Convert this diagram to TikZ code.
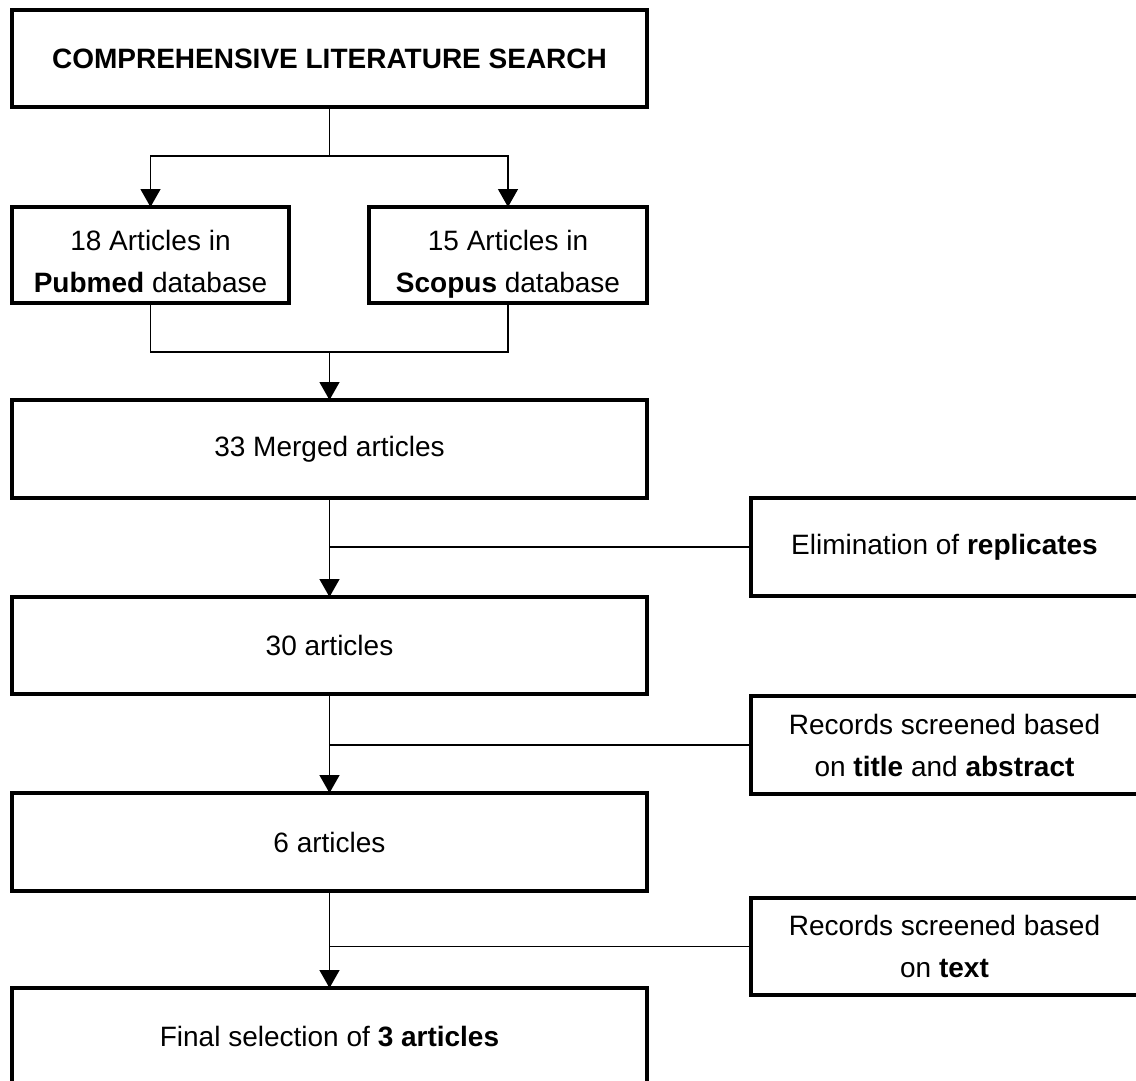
\documentclass[tikz,border=0pt]{standalone}
\usepackage{fontspec}
\setmainfont{Liberation Sans}
\usetikzlibrary{arrows.meta}
\begin{document}
\begin{tikzpicture}[x=1pt,y=-1pt,
  box/.style={draw, line width=3.5pt, rectangle, align=center, inner sep=0pt, outer sep=0pt,
    font=\fontsize{28}{42}\selectfont},
  txt/.style={align=center, inner sep=0pt, font=\fontsize{28}{42}\selectfont},
  conn/.style={line width=1.4pt},
  arr/.style={conn, -{Triangle[width=20pt,length=18pt]}}]
\useasboundingbox[fill=white] (0,0) rectangle (1136,1081);
\clip (0,0) rectangle (1136,1081);

\node[box, minimum width=635pt, minimum height=97pt] (top) at (329.5,58.5)
  {\textbf{COMPREHENSIVE LITERATURE SEARCH}};
\node[box, minimum width=277pt, minimum height=96pt] (pub) at (150.5,255) {};
\node[txt] (pubt) at ([yshift=-8pt]pub.center)
  {\strut 18 Articles in\\\strut\textbf{Pubmed} database};
\node[box, minimum width=278pt, minimum height=96pt] (sco) at (508,255) {};
\node[txt] (scot) at ([yshift=-8pt]sco.center)
  {\strut 15 Articles in\\\strut\textbf{Scopus} database};
\node[box, minimum width=635pt, minimum height=98pt] (merged) at (329.5,449)
  {33 Merged articles};
\node[box, minimum width=635pt, minimum height=97pt] (a30) at (329.5,645.5)
  {30 articles};
\node[box, minimum width=635pt, minimum height=98pt] (a6) at (329.5,842)
  {6 articles};
\node[box, minimum width=635pt, minimum height=97pt] (fin) at (329.5,1036.5)
  {Final selection of \textbf{3 articles}};

\node[box, minimum width=387pt, minimum height=98pt] (s1) at (944.5,547)
  {Elimination of \textbf{replicates}};
\node[box, minimum width=387pt, minimum height=98pt] (s2) at (944.5,745)
  {Records screened based\\on \textbf{title} and \textbf{abstract}};
\node[box, minimum width=387pt, minimum height=97pt] (s3) at (944.5,946.5)
  {Records screened based\\on \textbf{text}};

\coordinate (b1) at (329.5,156);
\draw[conn] (top.south) -- (b1);
\draw[arr] (b1) -| (pub.north);
\draw[arr] (b1) -| (sco.north);

\coordinate (m1) at (329.5,352);
\draw[conn] (pub.south) |- (m1);
\draw[conn] (sco.south) |- (m1);
\draw[arr] (m1) -- (merged.north);

\draw[arr] (merged.south) -- (a30.north);
\draw[conn] (s1.west) -- (s1.west -| merged.south);
\draw[arr] (a30.south) -- (a6.north);
\draw[conn] (s2.west) -- (s2.west -| a30.south);
\draw[arr] (a6.south) -- (fin.north);
\draw[conn] (s3.west) -- (s3.west -| a6.south);
\end{tikzpicture}
\end{document}
